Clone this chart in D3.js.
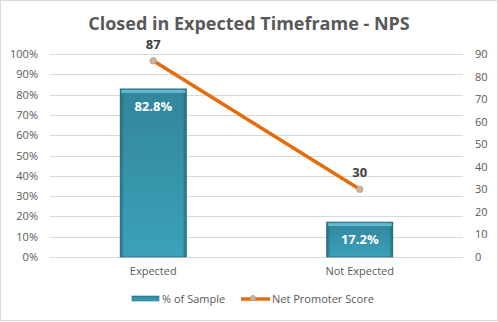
<!DOCTYPE html>
<html><head><meta charset="utf-8">
<script src="https://cdn.jsdelivr.net/npm/d3@7"></script>
<style>body{margin:0;background:#fff}svg{display:block}text{font-family:"Open Sans","Noto Sans",sans-serif}</style>
</head><body>
<svg id="c" width="498" height="322"></svg>
<script>
const categories = ["Expected", "Not Expected"];
const pctSample = [82.8, 17.2];
const nps = [87, 30];
const leftTicks = [0,10,20,30,40,50,60,70,80,90,100];
const rightTicks = [0,10,20,30,40,50,60,70,80,90];
const title = "Closed in Expected Timeframe - NPS";

const svg = d3.select("#c");
const W = 498, H = 322;
const m = {l:50, r:35, t:54, b:65};
const x0 = m.l, x1 = W - m.r, y0 = H - m.b, y1 = m.t;

// frame
svg.append("rect").attr("x",0.5).attr("y",0.5).attr("width",W-1).attr("height",H-2)
  .attr("fill","#fff").attr("stroke","#d9d9d9").attr("stroke-width",1);

const defs = svg.append("defs");
const gv = defs.append("linearGradient").attr("id","barv").attr("x1",0).attr("x2",0).attr("y1",0).attr("y2",1);
gv.append("stop").attr("offset","0%").attr("stop-color","#31869b");
gv.append("stop").attr("offset","100%").attr("stop-color","#3ca1b9");
const gh = defs.append("linearGradient").attr("id","barh").attr("x1",0).attr("x2",1).attr("y1",0).attr("y2",0);
gh.append("stop").attr("offset","0%").attr("stop-color","#1f5d6e").attr("stop-opacity",0.7);
gh.append("stop").attr("offset","6%").attr("stop-color","#1f5d6e").attr("stop-opacity",0);
gh.append("stop").attr("offset","94%").attr("stop-color","#1f5d6e").attr("stop-opacity",0);
gh.append("stop").attr("offset","100%").attr("stop-color","#1f5d6e").attr("stop-opacity",0.7);

const x = d3.scaleBand().domain(categories).range([x0, x1]).padding(0);
const yL = d3.scaleLinear().domain([0,100]).range([y0, y1]);
const yR = d3.scaleLinear().domain([0,90]).range([y0, y1]);

// gridlines
svg.append("g").selectAll("line").data(leftTicks).join("line")
  .attr("x1",x0).attr("x2",x1).attr("y1",d=>Math.round(yL(d))+0.5).attr("y2",d=>Math.round(yL(d))+0.5)
  .attr("stroke","#d9d9d9").attr("stroke-width",1);

// left axis
const la = svg.append("g").attr("transform",`translate(${x0},0)`)
  .call(d3.axisLeft(yL).tickValues(leftTicks).tickFormat(d=>d+"%").tickSize(0).tickPadding(12));
la.select(".domain").remove();
la.selectAll("text").attr("fill","#595959").style("font-size","11px");

// right axis
const ra = svg.append("g").attr("transform",`translate(${x1},0)`)
  .call(d3.axisRight(yR).tickValues(rightTicks).tickSize(0).tickPadding(12));
ra.select(".domain").remove();
ra.selectAll("text").attr("fill","#595959").style("font-size","11px");

// bottom axis labels
const ba = svg.append("g").attr("transform",`translate(0,${y0})`)
  .call(d3.axisBottom(x).tickSize(0).tickPadding(10));
ba.select(".domain").remove();
ba.selectAll("text").attr("fill","#595959").style("font-size","11px");

// bars
const bw = x.bandwidth()*0.32;
const bars = svg.append("g").selectAll("g").data(categories).join("g");
bars.append("rect")
  .attr("x",(d)=>x(d)+x.bandwidth()/2-bw/2)
  .attr("y",(d,i)=>yL(pctSample[i]))
  .attr("width",bw)
  .attr("height",(d,i)=>yL(0)-yL(pctSample[i]))
  .attr("fill","url(#barv)").attr("stroke","#2b6f82").attr("stroke-width",0.8);
bars.append("rect")
  .attr("x",(d)=>x(d)+x.bandwidth()/2-bw/2)
  .attr("y",(d,i)=>yL(pctSample[i]))
  .attr("width",bw)
  .attr("height",(d,i)=>yL(0)-yL(pctSample[i]))
  .attr("fill","url(#barh)");
bars.append("rect")
  .attr("x",(d)=>x(d)+x.bandwidth()/2-bw/2+1)
  .attr("y",(d,i)=>yL(pctSample[i])+1)
  .attr("width",bw-2).attr("height",3)
  .attr("fill","#62b8cd");
bars.append("text")
  .attr("x",d=>x(d)+x.bandwidth()/2)
  .attr("y",(d,i)=>yL(pctSample[i])+22)
  .attr("text-anchor","middle").attr("fill","#fff")
  .style("font-size","13px").style("font-weight","bold")
  .text((d,i)=>pctSample[i].toFixed(1)+"%");

// line
const pts = categories.map((c,i)=>[x(c)+x.bandwidth()/2, yR(nps[i])]);
svg.append("path").attr("d", d3.line()(pts)).attr("fill","none")
  .attr("stroke","#e46c0a").attr("stroke-width",3.5).attr("stroke-linecap","round");
svg.append("g").selectAll("circle").data(pts).join("circle")
  .attr("cx",d=>d[0]).attr("cy",d=>d[1]).attr("r",3.2)
  .attr("fill","#d9b38c").attr("stroke","#a6a6a6").attr("stroke-width",1);
svg.append("g").selectAll("text").data(pts).join("text")
  .attr("x",d=>d[0]).attr("y",d=>d[1]-12)
  .attr("text-anchor","middle").attr("fill","#404040")
  .style("font-size","13px").style("font-weight","bold")
  .text((d,i)=>nps[i]);

// title
svg.append("text").attr("x",249).attr("y",30).attr("text-anchor","middle")
  .attr("fill","#595959").style("font-size","18px").style("font-weight","bold")
  .text(title);

// legend
const lg = svg.append("g");
lg.append("rect").attr("x",132).attr("y",296).attr("width",27).attr("height",5)
  .attr("fill","url(#barv)").attr("stroke","#2b6f82").attr("stroke-width",0.6);
lg.append("text").attr("x",162).attr("y",303).attr("fill","#595959").style("font-size","11px").text("% of Sample");
lg.append("line").attr("x1",241).attr("x2",270).attr("y1",299).attr("y2",299)
  .attr("stroke","#e46c0a").attr("stroke-width",3.5);
lg.append("circle").attr("cx",253).attr("cy",298).attr("r",2.5).attr("fill","#d9b38c").attr("stroke","#a6a6a6");
lg.append("text").attr("x",272).attr("y",303).attr("fill","#595959").style("font-size","11px").text("Net Promoter Score");
</script>
</body></html>
